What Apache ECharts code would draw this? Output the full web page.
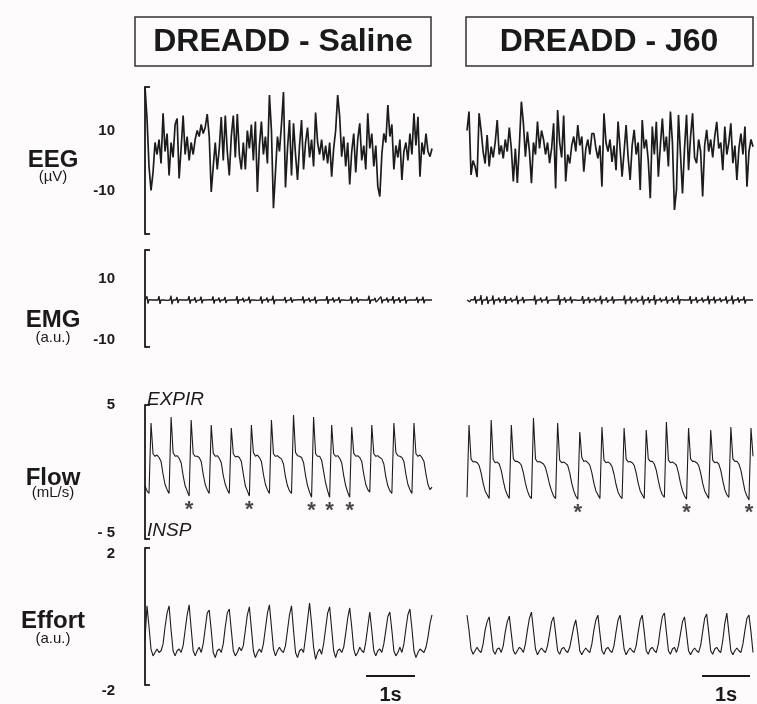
<!DOCTYPE html>
<html>
<head>
<meta charset="utf-8">
<script src="https://cdn.jsdelivr.net/npm/echarts@6.0.0/dist/echarts.min.js"></script>
<style>
  html, body { margin: 0; padding: 0; background: #fdfbfb; }
  #chart { width: 757px; height: 704px; }
</style>
</head>
<body>
<div id="chart"></div>
<script>
// panel titles and row names
var panelTitles = ['DREADD - Saline', 'DREADD - J60'];
var rowNames = ['EEG', 'EMG', 'Flow', 'Effort'];
var rowUnits = ['(µV)', '(a.u.)', '(mL/s)', '(a.u.)'];

// tick labels on the brackets
var eegTicks = [10, -10];
var emgTicks = [10, -10];
var flowTicks = [5, -5];
var effortTicks = [2, -2];

// EEG (µV)
var eegSaline = [24.6, 14, -2, -10, -4, 6, 2, 7, -1, 15.7,
  3, 9, -5, 6, 1, 12, 14, -6, 4, 15,
  2, 8, 0, 6, 2, 7, 10, 8, 12, 9,
  11, 15.5, 8, -10.5, -2, 6, -3, 4, 14.5, 0,
  15, 3, -5, 8, 15, 1, 15.5, 2, -3, 6,
  -3, 10, 4, 12, 0, 13, -10.5, 5, 13, 2,
  8, -1, 21.8, 10, -15.9, -4, 8, 3, 12, 22.8,
  -9, 4, 13.5, -5, 12.4, 2, -6.5, 5, 13.5, -3,
  6, 11, 1, 7, -2, 16, 6, 2, 7, 0,
  5, -1, 6, -5.4, 4, 10, 21.8, 14.6, 1.3, 8,
  -2, 6, -8, 3, 9, -4, 7, 12.4, 0, 5,
  -3, 15.7, 4, 9, -2, 5, -8.7, -12, 2, 9,
  6, 18.5, 8, 12, -3, 5, 1, 7, -6.5, 3,
  6, 0, 9, 2, 15.7, 5, 14.6, -5.4, 6, 2,
  9, 3, 1.3, 4];
var eegJ60 = [10, 16.3, -4.8, 0, -2, -5.5, 15.7, 10, 3, -1,
  8.5, -2, 4.6, 1, 6, 13.5, 2, 5, 0.7, 7,
  3, 11, 4, -7, 4, -7.5, 5, 19.6, 12.4, 1.3,
  9.6, 3, -7.6, 6, 2, 13, 4, 10, 7, 2,
  6, -0.9, 4, 12.4, -9.3, 16.8, 6, 1, 15, -7,
  2, -1, 5, 8, 3, 11.8, 5, 8, -3.7, 4,
  7, 2, 9, 9, 4, 0.7, 5, -8.7, 15.7, 6,
  3, 7, -0.5, 5, -3.2, 13, 4, -5.4, 3, 11.8,
  1, -6.5, 5, 10.2, 2, 6, -9.8, 13.5, 4, 7,
  0, -12.6, 11.3, 2, 12.9, -5.4, 5, 14, 3, 8,
  -2, 16.3, 6, -16.5, -9.8, 15.2, 2, -11, 4, 15.2,
  -3.2, 8, 15.7, 1, -0.9, 7, 3, -12, 5, 10.2,
  3, 7, 1, 8, 12.9, 4, 6, -3.2, 11.3, 2,
  6, 12.4, -0.9, 5, -6.5, 4, 9, 2, 11.3, -8.7,
  3, 7, 4.6];

// EMG (a.u.)
var emgSaline = [
  3.0, 3.0, 4.2, 1.8, 3.1, 3.0, 2.9, 3.0, 3.5, 2.5, 3.0, 3.0, 3.1, 3.0, 4.3, 1.7, 3.0, 3.0, 3.0, 3.0, 3.6, 2.4, 2.9, 3.0,
  3.1, 3.0, 4.4, 1.6, 3.0, 3.0, 3.0, 3.0, 4.0, 2.0, 3.1, 3.0, 2.9, 3.0, 3.6, 2.4, 3.0, 3.0, 3.1, 3.0, 4.3, 1.8, 3.0, 3.0,
  3.0, 3.0, 3.9, 2.1, 2.9, 3.0, 3.1, 3.0, 4.1, 1.9, 3.0, 3.0, 3.0, 3.0, 3.5, 2.5, 3.1, 3.0, 2.9, 3.0, 4.2, 1.8, 3.0, 3.0,
  3.1, 3.0, 3.8, 2.2, 3.0, 3.0, 3.0, 3.0, 4.0, 2.0, 2.9, 3.0, 3.1, 3.0, 3.6, 2.4, 3.0, 3.0, 3.0, 3.0, 4.3, 1.7, 3.1, 3.0,
  2.9, 3.0, 3.7, 2.3, 3.0, 3.0, 3.1, 3.0, 4.1, 1.9, 3.0, 3.0, 3.0, 3.0, 3.5, 2.5, 2.9, 3.0, 3.1, 3.0, 4.2, 1.8, 3.0, 3.0,
  3.0, 3.0, 3.8, 2.2, 3.1, 3.0, 2.9, 3.0, 4.4, 1.6, 3.0, 3.0, 3.1, 3.0, 3.6, 2.4, 3.0, 3.0, 3.0, 3.0, 4.0, 2.0, 2.9, 3.0,
  3.1, 3.0, 3.9, 2.1, 3.0, 3.0, 3.0, 3.0, 3.5, 2.5, 3.1, 3.0, 2.9, 3.0, 4.2, 1.9, 3.0, 3.0, 3.1, 3.0, 3.7, 2.3, 3.0, 3.0,
  3.0, 3.0, 4.1, 1.8, 2.9, 3.0, 3.1, 3.0, 3.6, 2.4, 3.0, 3.0, 3.0, 3.0, 4.3, 1.7, 3.1, 3.0, 2.9, 3.0, 3.8, 2.2, 3.0, 3.0,
  3.1, 3.0, 4.0, 2.0, 3.0, 3.0, 3.0, 3.0, 3.5, 2.5, 2.9, 3.0, 3.1, 3.0, 4.2, 1.8, 3.0, 3.0, 3.0, 3.0, 3.9, 2.1, 3.1, 3.0,
  2.9, 3.0, 3.6, 2.4, 3.0, 3.0, 3.1, 3.0, 4.4, 1.7, 3.0, 3.0, 3.0, 3.0, 3.7, 2.3, 2.9, 3.0, 3.1, 3.0, 4.1, 1.9, 3.0, 3.0,
  3.0, 3.0, 3.8, 2.2, 3.1, 3.0, 2.9, 3.0, 4.3, 1.8, 3.0, 3.0, 3.1, 3.0, 3.9, 2.1, 3.0, 3.0, 3.0, 3.0, 4.2, 1.8, 2.9, 3.0,
  3.1, 3.0, 3.6, 2.4, 3.0, 3.0, 3.0, 3.0, 4.0, 2.0, 3.1, 3.0, 2.9, 3.0, 4.1, 1.9, 3.0, 3.0, 3.1, 3.0, 3.4, 2.8, 3.0, 3.0];
var emgJ60 = [
  3.0, 3.0, 3.6, 2.4, 3.1, 3.0, 2.9, 3.0, 4.3, 1.8, 3.0, 3.0, 3.1, 3.0, 4.6, 1.4, 3.0, 3.0, 3.0, 3.0, 4.2, 1.7, 2.9, 3.0,
  3.1, 3.0, 4.5, 1.5, 3.0, 3.0, 3.0, 3.0, 3.8, 2.2, 3.1, 3.0, 2.9, 3.0, 4.3, 1.7, 3.0, 3.0, 3.1, 3.0, 3.7, 2.3, 3.0, 3.0,
  3.0, 3.0, 4.4, 1.6, 2.9, 3.0, 3.1, 3.0, 4.0, 2.0, 3.0, 3.0, 3.0, 3.0, 3.6, 2.4, 3.1, 3.0, 2.9, 3.0, 4.5, 1.5, 3.0, 3.0,
  3.1, 3.0, 3.8, 2.2, 3.0, 3.0, 3.0, 3.0, 4.2, 1.8, 2.9, 3.0, 3.1, 3.0, 3.5, 2.5, 3.0, 3.0, 3.0, 3.0, 4.6, 1.4, 3.1, 3.0,
  2.9, 3.0, 3.9, 2.1, 3.0, 3.0, 3.1, 3.0, 4.1, 1.9, 3.0, 3.0, 3.0, 3.0, 3.6, 2.4, 2.9, 3.0, 3.1, 3.0, 4.3, 1.7, 3.0, 3.0,
  3.0, 3.0, 4.0, 2.0, 3.1, 3.0, 2.9, 3.0, 3.7, 2.3, 3.0, 3.0, 3.1, 3.0, 4.4, 1.6, 3.0, 3.0, 3.0, 3.0, 3.9, 2.1, 2.9, 3.0,
  3.1, 3.0, 4.2, 1.8, 3.0, 3.0, 3.0, 3.0, 3.6, 2.4, 3.1, 3.0, 2.9, 3.0, 4.5, 1.6, 3.0, 3.0, 3.1, 3.0, 4.1, 1.9, 3.0, 3.0,
  3.0, 3.0, 3.8, 2.2, 2.9, 3.0, 3.1, 3.0, 4.4, 1.5, 3.0, 3.0, 3.0, 3.0, 4.0, 2.0, 3.1, 3.0, 2.9, 3.0, 4.6, 1.5, 3.0, 3.0,
  3.1, 3.0, 3.7, 2.3, 3.0, 3.0, 3.0, 3.0, 4.2, 1.8, 2.9, 3.0, 3.1, 3.0, 3.9, 2.1, 3.0, 3.0, 3.0, 3.0, 4.5, 1.6, 3.1, 3.0,
  2.9, 3.0, 3.6, 2.4, 3.0, 3.0, 3.1, 3.0, 4.3, 1.7, 3.0, 3.0, 3.0, 3.0, 4.0, 2.0, 2.9, 3.0, 3.1, 3.0, 3.8, 2.2, 3.0, 3.0,
  3.0, 3.0, 4.4, 1.6, 3.1, 3.0, 2.9, 3.0, 4.1, 1.9, 3.0, 3.0, 3.1, 3.0, 3.7, 2.3, 3.0, 3.0, 3.0, 3.0, 4.2, 1.8, 2.9, 3.0,
  3.1, 3.0, 4.5, 1.6, 3.0, 3.0, 3.0, 3.0, 3.9, 2.1, 3.1, 3.0, 2.9, 3.0, 4.2, 1.8, 3.0, 3.0, 3.1, 3.0, 3.6, 2.4, 3.0, 3.0];

// airflow (mL/s), expiration up
var flowSaline = [-1.3, -1.7, -1.9,
  3.6, 1.2, 1.0, 1.1, 0.9, 0.6, -0.4, -1.2, -1.6, -1.9,
  4.06, 1.3, 1.0, 1.05, 0.85, 0.5, -0.5, -1.3, -1.7, -2.1,
  3.83, 1.2, 1.0, 1.0, 0.9, 0.6, -0.4, -1.2, -1.6, -1.9,
  3.44, 1.25, 1.0, 1.05, 0.85, 0.5, -0.5, -1.2, -1.6, -1.9,
  3.2, 1.2, 0.95, 1.0, 0.9, 0.6, -0.4, -1.3, -1.7, -2.1,
  3.44, 1.3, 1.0, 1.1, 0.9, 0.6, -0.4, -1.2, -1.6, -1.9,
  3.83, 1.2, 1.0, 1.05, 0.9, 0.8, 0.4, -0.6, -1.3, -1.7, -1.9,
  4.22, 1.3, 1.05, 1.0, 0.9, 0.5, -0.5, -1.3, -1.8, -2.2,
  4.06, 1.2, 1.0, 1.0, 0.7, -0.2, -1.1, -1.7, -2.2,
  3.44, 1.2, 1.0, 1.05, 0.85, 0.5, -0.5, -1.3, -1.8, -2.2,
  3.28, 1.25, 1.0, 1.05, 0.9, 0.6, -0.4, -1.2, -1.6, -1.8,
  3.44, 1.2, 1.0, 1.05, 0.9, 0.8, 0.4, -0.6, -1.3, -1.7, -1.9,
  3.6, 1.3, 1.05, 1.0, 0.9, 0.6, -0.4, -1.2, -1.6, -1.9,
  3.6, 1.2, 1.0, 1.1, 0.9, 0.6, -0.4, -1.2, -1.6, -1.4];
var flowJ60 = [-2.2,
  3.44, 0.8, 0.55, 0.6, 0.5, 0.3, -0.3, -1.1, -1.7, -2.0, -2.3,
  3.83, 0.75, 0.5, 0.55, 0.4, -0.1, -0.9, -1.6, -2.0, -2.3,
  3.44, 0.8, 0.6, 0.6, 0.5, 0.3, -0.3, -1.1, -1.7, -2.1, -2.3,
  3.99, 0.8, 0.55, 0.6, 0.5, 0.4, 0.1, -0.5, -1.2, -1.7, -2.1, -2.3,
  3.6, 0.7, 0.5, 0.55, 0.45, 0.3, -0.3, -1.1, -1.7, -2.1, -2.35,
  2.9, 0.9, 0.6, 0.65, 0.5, 0.3, -0.3, -1.1, -1.7, -2.0, -2.3,
  3.28, 0.7, 0.5, 0.55, 0.45, 0.2, -0.4, -1.2, -1.8, -2.1, -2.3,
  3.2, 0.8, 0.55, 0.6, 0.5, 0.3, -0.3, -1.1, -1.7, -2.0, -2.3,
  3.05, 0.8, 0.6, 0.6, 0.4, -0.1, -0.9, -1.6, -2.0, -2.2,
  3.67, 0.7, 0.5, 0.55, 0.45, 0.3, -0.3, -1.1, -1.7, -2.1, -2.35,
  3.2, 0.8, 0.6, 0.6, 0.5, 0.3, -0.3, -1.1, -1.7, -2.0, -2.3,
  3.05, 0.7, 0.5, 0.55, 0.4, -0.1, -0.9, -1.6, -2.0, -2.2,
  3.28, 0.8, 0.6, 0.6, 0.4, -0.1, -0.9, -1.7, -2.1, -2.4,
  3.2, 1.0];
// samples marked with an asterisk (augmented breaths)
var flowMarksSaline = [22, 52, 83, 92, 102];
var flowMarksJ60 = [55, 109, 140];

// respiratory effort (a.u.)
var effortSaline = [-0.7, 0.31, -0.3, -0.95, -1.15, -1.05, -0.95, -1.05, -1.0, -0.8,
  -0.3, 0.1, 0.31, -0.4, -1.0, -1.15, -1.0, -0.95, -1.05, -0.85,
  -0.4, 0.05, 0.34, -0.35, -1.0, -1.15, -1.0, -0.9, -1.05, -0.8,
  -0.35, 0.1, 0.19, -0.4, -1.05, -1.2, -1.0, -0.95, -1.05, -0.8,
  -0.3, 0.1, 0.22, -0.4, -1.0, -1.15, -1.05, -0.9, -1.0, -0.85,
  -0.4, 0.05, 0.28, -0.35, -1.0, -1.2, -1.05, -0.95, -1.05, -0.8,
  -0.35, 0.1, 0.34, -0.3, -0.95, -1.15, -1.0, -0.9, -1.0, -1.05,
  -0.85, -0.4, 0.05, 0.31, -0.4, -1.05, -1.2, -1.0, -0.95, -1.05,
  -0.6, -0.1, 0.39, -0.2, -0.9, -1.25, -1.05, -0.95, -1.1, -0.8,
  -0.35, 0.1, 0.28, -0.35, -1.0, -1.2, -1.0, -0.95, -1.05, -0.9,
  -0.5, -0.05, 0.25, -0.3, -0.95, -1.15, -1.05, -0.9, -1.0, -1.05,
  -0.75, -0.3, 0.13, -0.4, -1.0, -1.15, -1.0, -0.95, -1.05, -0.8,
  -0.4, 0.0, 0.13, -0.4, -1.0, -1.15, -1.05, -0.9, -1.05, -0.8,
  -0.35, 0.05, 0.22, -0.35, -1.0, -1.2, -1.05, -0.95, -1.0, -1.05,
  -0.9, -0.6, -0.2, 0.05];
var effortJ60 = [0.04, -0.4, -0.95, -1.1, -1.0, -0.9, -1.0, -1.05, -0.8, -0.4,
  -0.15, -0.01, -0.5, -1.0, -1.1, -0.95, -0.92, -1.05, -0.85, -0.45,
  -0.15, 0.01, -0.5, -1.0, -1.1, -1.0, -0.9, -0.95, -1.05, -0.8,
  -0.4, -0.05, 0.13, -0.4, -0.95, -1.12, -1.0, -0.92, -1.0, -1.05,
  -0.85, -0.5, -0.15, -0.01, -0.5, -1.0, -1.1, -0.95, -0.9, -1.0,
  -1.05, -0.9, -0.6, -0.3, -0.1, -0.5, -1.0, -1.12, -1.0, -0.92,
  -1.0, -1.05, -0.8, -0.4, -0.1, 0.04, -0.5, -1.0, -1.1, -0.95,
  -0.9, -1.0, -1.05, -0.85, -0.45, -0.1, 0.04, -0.45, -0.95, -1.12,
  -1.0, -0.92, -1.0, -1.05, -0.85, -0.45, -0.1, 0.04, -0.45, -1.0,
  -1.1, -0.95, -0.9, -1.0, -1.05, -0.8, -0.35, 0.0, 0.1, -0.45,
  -1.0, -1.1, -0.95, -0.9, -1.05, -0.85, -0.5, -0.15, -0.01, -0.5,
  -1.0, -1.12, -1.0, -0.92, -1.0, -1.05, -0.85, -0.45, -0.05, 0.07,
  -0.45, -1.0, -1.1, -0.95, -0.9, -1.0, -1.05, -0.7, -0.2, 0.1,
  -0.45, -1.0, -1.12, -1.0, -0.92, -1.0, -1.05, -0.8, -0.4, -0.05,
  0.04, -0.45, -1.05];

var FONT = '"Liberation Sans", Arial, sans-serif';
var INK = '#1a1a1a';

// layout of the rows and the two columns
var rows = [
  {top: 87, height: 147, min: -24.5, max: 24.5, ticks: eegTicks, traces: [eegSaline, eegJ60], lw: 1.7},
  {top: 250, height: 97, min: -12.5, max: 19.5, ticks: emgTicks, traces: [emgSaline, emgJ60], lw: 1.3},
  {top: 405, height: 134, min: -5.45, max: 5, ticks: flowTicks, traces: [flowSaline, flowJ60], lw: 1.1, dash: true},
  {top: 548, height: 137, min: -2, max: 2, ticks: effortTicks, traces: [effortSaline, effortJ60], lw: 1.1, low: true}
];
var cols = [{left: 145, width: 287}, {left: 467, width: 286}];

var grids = [], xAxes = [], yAxes = [], series = [];

rows.forEach(function (row, r) {
    cols.forEach(function (col, c) {
        var idx = grids.length;
        var data = row.traces[c];
        grids.push({left: col.left, width: col.width, top: row.top, height: row.height});
        xAxes.push({gridIndex: idx, type: 'value', min: 0, max: data.length - 1, show: false});
        if (c === 0) {
            yAxes.push({
                gridIndex: idx, type: 'value', min: row.min, max: row.max, offset: 19,
                axisLine: {show: true, lineStyle: {color: INK, width: 1.8}},
                axisTick: {show: true, inside: true, length: 5, customValues: [row.min, row.max],
                    lineStyle: {color: INK, width: 1.8}},
                axisLabel: {
                    show: true, customValues: row.ticks, margin: 11,
                    fontSize: 15, fontWeight: 'bold', fontFamily: FONT, color: INK,
                    verticalAlign: row.low ? 'top' : 'middle', lineHeight: row.low ? 12 : 15,
                    formatter: function (v) { return (row.dash && v < 0) ? '- ' + Math.abs(v) : String(v); }
                },
                splitLine: {show: false}
            });
        } else {
            yAxes.push({gridIndex: idx, type: 'value', min: row.min, max: row.max, show: false});
        }
        series.push({
            type: 'line', xAxisIndex: idx, yAxisIndex: idx,
            data: data.map(function (v, i) { return [i, v]; }),
            symbol: 'none', clip: false, silent: true,
            lineStyle: {color: '#1c1c1c', width: row.lw}
        });
    });
});

// asterisks under the flow troughs
[flowMarksSaline, flowMarksJ60].forEach(function (marks, c) {
    var trace = rows[2].traces[c];
    series.push({
        type: 'scatter', xAxisIndex: 4 + c, yAxisIndex: 4 + c,
        data: marks.map(function (i) { return [i, trace[i]]; }),
        symbolSize: 1, itemStyle: {color: 'rgba(0,0,0,0)'}, silent: true,
        label: {show: true, formatter: '*', position: 'bottom', distance: 2,
            fontSize: 22, fontWeight: 'bold', fontFamily: FONT, color: INK}
    });
});

var graphic = [];
// title boxes
[{x: 135, w: 296, cx: 283}, {x: 466, w: 287, cx: 609}].forEach(function (b, c) {
    graphic.push({type: 'rect', shape: {x: b.x, y: 17, width: b.w, height: 49},
        style: {fill: 'none', stroke: '#333', lineWidth: 1.5}});
    graphic.push({type: 'text', x: b.cx, y: 42,
        style: {text: panelTitles[c], fontSize: 32, fontWeight: 'bold', fontFamily: FONT,
            fill: INK, align: 'center', verticalAlign: 'middle'}});
});
// row names and units
var labelY = [[160, 177], [320, 338], [478, 493], [621, 639]];
rowNames.forEach(function (name, r) {
    graphic.push({type: 'text', x: 53, y: labelY[r][0],
        style: {text: name, fontSize: 24, fontWeight: 'bold', fontFamily: FONT, fill: INK,
            align: 'center', verticalAlign: 'middle'}});
    graphic.push({type: 'text', x: 53, y: labelY[r][1],
        style: {text: rowUnits[r], fontSize: 15, fontFamily: FONT, fill: INK,
            align: 'center', verticalAlign: 'middle'}});
});
// direction of flow
graphic.push({type: 'text', x: 147, y: 400,
    style: {text: 'EXPIR', fontSize: 19, fontStyle: 'italic', fontFamily: FONT, fill: INK, verticalAlign: 'middle'}});
graphic.push({type: 'text', x: 147, y: 531,
    style: {text: 'INSP', fontSize: 19, fontStyle: 'italic', fontFamily: FONT, fill: INK, verticalAlign: 'middle'}});
// 1 s scale bars
[{x1: 366, x2: 415}, {x1: 702, x2: 750}].forEach(function (s) {
    graphic.push({type: 'line', shape: {x1: s.x1, y1: 676, x2: s.x2, y2: 676},
        style: {stroke: INK, lineWidth: 2}});
    graphic.push({type: 'text', x: (s.x1 + s.x2) / 2, y: 695,
        style: {text: '1s', fontSize: 20, fontWeight: 'bold', fontFamily: FONT, fill: INK,
            align: 'center', verticalAlign: 'middle'}});
});

var myChart = echarts.init(document.getElementById('chart'));
myChart.setOption({
    backgroundColor: '#fdfbfb',
    animation: false,
    grid: grids,
    xAxis: xAxes,
    yAxis: yAxes,
    series: series,
    graphic: graphic
});
</script>
</body>
</html>
